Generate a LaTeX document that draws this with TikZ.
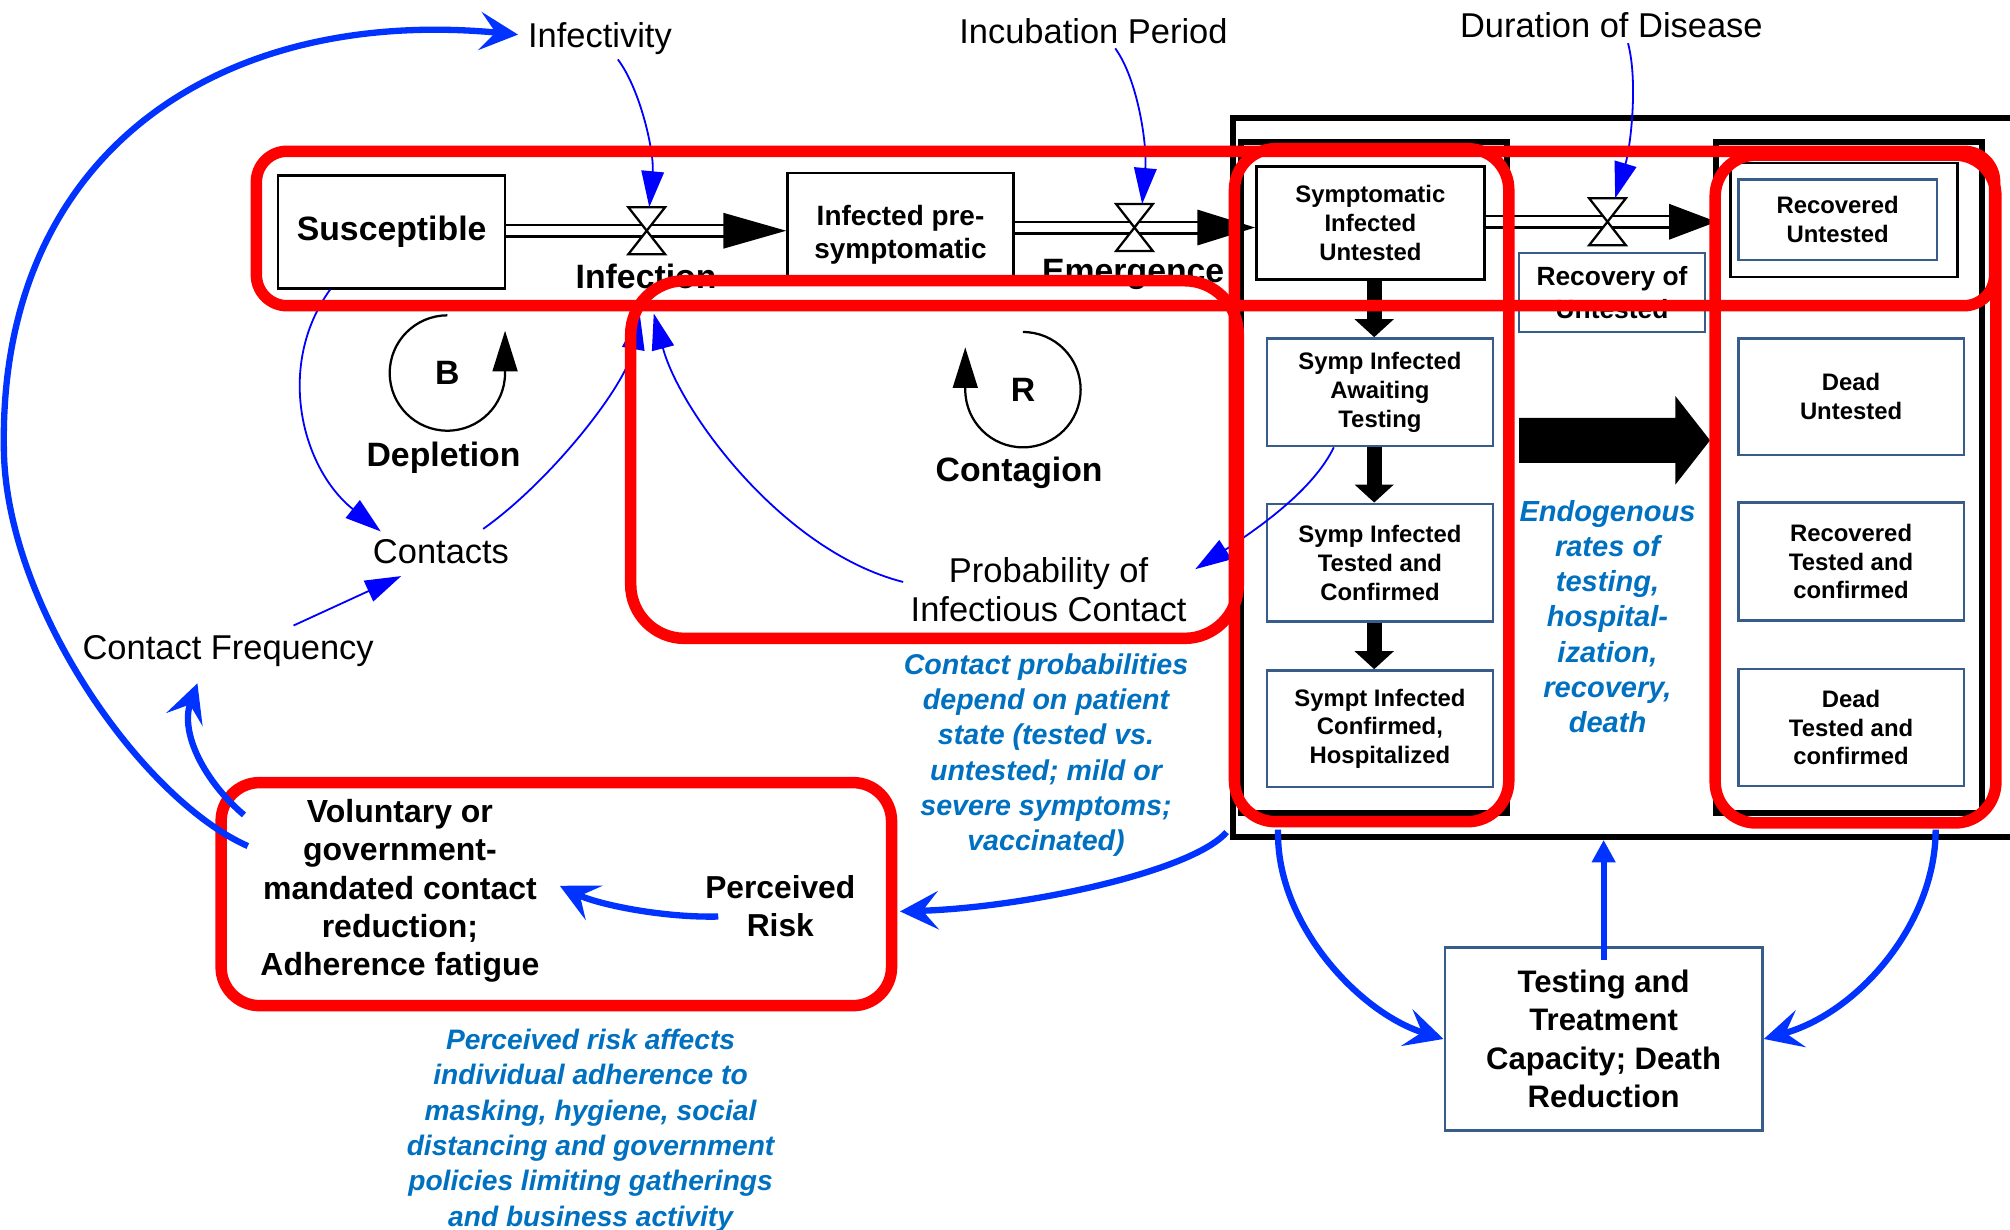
\documentclass[tikz,border=0pt]{standalone}
\usepackage{fontspec}
\setmainfont{Liberation Sans}
\usetikzlibrary{arrows.meta,calc,positioning}
\definecolor{linkblue}{HTML}{0000FF}
\definecolor{loopblue}{HTML}{0033FF}
\definecolor{noteblue}{HTML}{0070C0}
\definecolor{boxblue}{HTML}{385D8A}

\begin{document}
\begin{tikzpicture}[x=0.02cm,y=-0.02cm,>=Latex]
  \tikzset{
    stockbox/.style={draw,line width=1.1pt,fill=white,align=center,inner sep=0pt,minimum width=3.54cm,minimum height=1.76cm},
    statebox/.style={draw=boxblue,line width=1.1pt,fill=white,align=center,inner sep=0pt,minimum width=3.52cm,minimum height=1.82cm,font=\fontsize{10.6}{12.8}\selectfont\bfseries},
    colframe/.style={draw,line width=2.5pt,inner sep=0pt,minimum width=4.15cm,minimum height=10.47cm},
    auxvar/.style={inner sep=2pt,align=center,font=\fontsize{15.3}{17.4}\selectfont},
    ratelbl/.style={inner sep=2pt,font=\fontsize{15}{18}\selectfont\bfseries},
    noteblk/.style={align=center,text=noteblue,inner sep=0pt},
    valve/.style={inner sep=0pt,minimum width=0.56cm,minimum height=0.72cm},
    pipe/.style={double,double distance=4pt,line width=1.1pt},
    link/.style={linkblue,line width=0.8pt,-{Triangle[length=16pt,width=10pt]}},
    fback/.style={loopblue,line width=2.8pt,-{Stealth[length=17pt,width=17pt,inset=7pt]}},
    downarrow/.style={line width=6.8pt,-{Triangle[length=8pt,width=17pt]}},
    looparrow/.style={line width=1pt,-{Triangle[length=18pt,width=11pt]}},
    redbox/.style={red,line width=5.1pt}
  }

  \useasboundingbox (0,0) rectangle (1568,959);

  % frames round the testing model
  \node[draw,line width=2.5pt,inner sep=0pt,minimum width=12.76cm,minimum height=11.22cm] (frame) at (1281,372.5) {};
  \node[colframe] (lcol) at (1072,372.3) {};
  \node[colframe] (rcol) at (1442.5,372.3) {};

  % stocks
  \node[stockbox,font=\fontsize{15}{18}\selectfont\bfseries] (susc) at (305.5,181) {Susceptible};
  \node[stockbox,minimum width=3.53cm,minimum height=1.66cm,
    label={[align=center,yshift=-0.13cm,font=\fontsize{12.4}{14.8}\selectfont\bfseries]center:{Infected pre-\\symptomatic}}] (pre) at (702.5,176.5) {};
  \node[stockbox,minimum width=3.56cm,font=\fontsize{10.6}{12.8}\selectfont\bfseries] (symp) at (1069,174) {Symptomatic\\Infected\\Untested};
  \node[statebox,minimum height=1.68cm] (await) at (1076.5,306) {Symp Infected\\Awaiting\\Testing};
  \node[statebox,minimum height=1.84cm] (tested) at (1076.5,439) {Symp Infected\\Tested and\\Confirmed};
  \node[statebox] (hosp) at (1076.5,568.5) {Sympt Infected\\Confirmed,\\Hospitalized};
  \node[stockbox,minimum height=1.78cm] (recu) at (1438.5,171.5) {};
  \node[statebox,minimum width=3.1cm,minimum height=1.26cm] (recuin) at (1433.5,171.5) {Recovered\\Untested};
  \node[statebox] (deadu) at (1444,309.5) {Dead\\Untested};
  \node[statebox,minimum height=1.84cm] (rect) at (1444,438) {Recovered\\Tested and\\confirmed};
  \node[statebox] (deadt) at (1444,567.5) {Dead\\Tested and\\confirmed};
  \node[statebox,line width=0.9pt,minimum width=2.9cm,minimum height=1.24cm,font=\fontsize{11.7}{14.8}\selectfont\bfseries] (recr) at (1257.5,228) {Recovery of\\Untested};
  \node[statebox,minimum width=4.96cm,minimum height=2.86cm,font=\fontsize{13.8}{17}\selectfont\bfseries] (test) at (1251,810.5) {Testing and\\Treatment\\Capacity; Death\\Reduction};

  % auxiliaries and rates
  \node[auxvar] (infy) at (468,30) {Infectivity};
  \node[auxvar] (incp) at (853,24) {Incubation Period};
  \node[auxvar] (durd) at (1257,20) {Duration of Disease};
  \node[auxvar] (cont) at (344,430) {Contacts};
  \node[auxvar] (cfreq) at (178,508) {Contact Frequency};
  \node[auxvar] (prob) at (818,460) {Probability of\\Infectious Contact};
  \node[ratelbl] (infl) at (504,216) {Infection};
  \node[ratelbl] (emer) at (884,214) {Emergence};
  \node[valve] (v1) at (504.5,180) {};
  \node[valve] (v2) at (885,177.5) {};
  \node[valve] (v3) at (1254,173) {};

  % flows
  \draw[pipe] (susc.east |- v1) -- ($(pre.west |- v1)+(-46,0)$);
  \fill (pre.west |- v1) -- ++(-49,-14) -- ++(0,28) -- cycle;
  \draw[pipe] (pre.east |- v2) -- ($(symp.west |- v2)+(-42,0)$);
  \fill (symp.west |- v2) -- ++(-45,-14) -- ++(0,28) -- cycle;
  \draw[pipe] (symp.east |- v3) -- ($(recu.west |- v3)+(-46,0)$);
  \fill ($(recu.west |- v3)+(-10,0)$) -- ++(-37,-14) -- ++(0,28) -- cycle;
  \foreach \v in {v1,v2,v3}
    \draw[line width=1pt,fill=white] (\v.north west) -- (\v.north east) -- (\v.south west) -- (\v.south east) -- cycle;

  \draw[downarrow] (lcol |- symp.south) -- (lcol |- await.north);
  \draw[downarrow] (lcol |- await.south) -- (lcol |- tested.north);
  \draw[downarrow] (lcol |- tested.south) -- (lcol |- hosp.north);
  \fill (1185,326) -- (1307,326) -- (1307,309) -- (1334,343.5) -- (1307,378) -- (1307,361) -- (1185,361) -- cycle;

  % loops
  \node[font=\fontsize{15}{18}\selectfont\bfseries] (bl) at (349,291) {B};
  \draw[looparrow] ($(bl)+(0,-45)$) arc[start angle=90,end angle=360,radius=0.9cm] -- ++(0,-33);
  \node[ratelbl] (depl) at (346,357) {Depletion};
  \node[font=\fontsize{15}{18}\selectfont\bfseries] (rl) at (798,304) {R};
  \draw[looparrow] ($(rl)+(0,-45)$) arc[start angle=90,end angle=-180,radius=0.9cm] -- ++(0,-33);
  \node[ratelbl] (cntg) at (795,369) {Contagion};

  % links
  \draw[link] ($(infy.south)+(14,0)$) .. controls +(18,24) and +(4,-42) .. ($(v1.north)+(2,0)$);
  \draw[link] ($(incp.south)+(17,0)$) .. controls +(18,25) and +(4,-45) .. ($(v2.north)+(6,0)$);
  \draw[link] ($(durd.south)+(13,0)$) .. controls +(8,30) and +(12,-40) .. ($(v3.north)+(6,0)$);
  \draw[link] ($(susc.south)+(-48,0)$) .. controls (215,285) and (235,365) .. ($(cont.north west)+(10,-2)$);
  \draw[link] ($(cont.north east)+(-24,-4)$) .. controls (430,375) and (489,300) .. ($(infl.south)+(-5,15)$);
  \draw[link] ($(prob.west)+(-2,-6)$) .. controls (610,430) and (530,320) .. ($(infl.south)+(6,15)$);
  \draw[link] ($(await.south)+(-36,0)$) .. controls (1025,381) and (985,410) .. ($(prob.east)+(3,-16)$);
  \draw[link] ($(cfreq.north)+(51,-4)$) -- ($(cont.south)+(-31,6)$);

  % notes
  \node[noteblk,font=\fontsize{12.9}{15.65}\selectfont\bfseries\itshape] (endo) at (1254,481) {Endogenous\\rates of\\testing,\\hospital-\\ization,\\recovery,\\death};
  \node[noteblk,font=\fontsize{12.7}{15.6}\selectfont\bfseries\itshape] (cprob) at (816,589) {Contact probabilities\\depend on patient\\state (tested vs.\\untested; mild or\\severe symptoms;\\vaccinated)};
  \node[noteblk,font=\fontsize{12.5}{15.7}\selectfont\bfseries\itshape] (prnote) at (460.7,882) {Perceived risk affects\\individual adherence to\\masking, hygiene, social\\distancing and government\\policies limiting gatherings\\and business activity};

  % behaviour
  \node[align=center,inner sep=2pt,font=\fontsize{14.2}{17}\selectfont\bfseries] (vol) at (312,695) {Voluntary or\\government-\\mandated contact\\reduction;\\Adherence fatigue};
  \node[align=center,inner sep=2pt,font=\fontsize{14.1}{16.9}\selectfont\bfseries] (prisk) at (608.7,707) {Perceived\\Risk};

  % highlighted parts
  \draw[redbox,rounded corners=0.48cm] (200,118) rectangle (1556,238.5);
  \draw[redbox,rounded corners=0.84cm] (492,219) rectangle (966,498);
  \draw[redbox,rounded corners=0.64cm] (963,116) rectangle (1177,641);
  \draw[redbox,rounded corners=0.64cm] (1338,121) rectangle (1557,642);
  \draw[redbox,rounded corners=0.6cm] (172.5,610.5) rectangle (695.5,784.5);

  % feedback
  \draw[fback] ($(vol.west)+(-6,-35)$) .. controls (110,623) and (3,470) .. (3,348)
    .. controls (0,120) and (170,5) .. ($(infy.west)+(-4,-3)$);
  \draw[fback] ($(vol.north west)+(-9,16)$) .. controls (160,610) and (140,572) .. ($(cfreq.south)+(-24,9)$);
  \draw[fback] ($(prisk.west)+(14,8)$) .. controls (515,716) and (465,705) .. ($(vol.east)+(12,-4)$);
  \draw[fback] ($(frame.south west)+(-3,-6)$) .. controls (930,680) and (800,708) .. ($(prisk.east)+(31,4)$);
  \draw[fback] ($(lcol.south)+(-75,11)$) .. controls (995,720) and (1060,790) .. (test.west);
  \draw[fback] ($(rcol.south)+(67.5,11)$) .. controls (1510,720) and (1450,790) .. (test.east);
  \draw[loopblue,line width=2.8pt,-{Triangle[length=10pt,width=10pt]}] ($(test.north)+(0,11)$) -- (test.north |- frame.south);
\end{tikzpicture}
\end{document}
